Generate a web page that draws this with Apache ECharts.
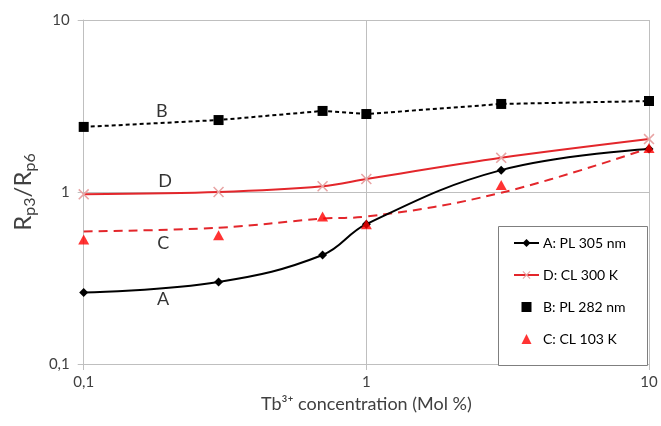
<!DOCTYPE html>
<html>
<head>
<meta charset="utf-8">
<script src="https://cdn.jsdelivr.net/npm/echarts@6/dist/echarts.min.js"></script>
<style>
html,body{margin:0;padding:0;background:#fff;}
#chart{width:661px;height:426px;}
</style>
</head>
<body>
<div id="chart"></div>
<script>
const concentrations = [0.1, 0.3, 0.7, 1, 3, 10];
const seriesA = [0.26, 0.30, 0.43, 0.65, 1.34, 1.78];
const seriesD = [0.97, 1.00, 1.08, 1.19, 1.58, 2.03];
const seriesB = [2.39, 2.62, 2.96, 2.84, 3.25, 3.38];
const seriesC = [0.53, 0.56, 0.72, 0.65, 1.10, 1.80];
const trendC = [0.59, 0.62, 0.70, 0.72, 0.99, 1.80];
const xTickLabels = ['0,1', '1', '10'];
const yTickLabels = ['0,1', '1', '10'];
const legendNames = ['A: PL 305 nm', 'D: CL 300 K', 'B: PL 282 nm', 'C: CL 103 K'];
const curveLabels = ['B', 'D', 'C', 'A'];
const curveLabelX = [0.189, 0.194, 0.191, 0.191];
const curveLabelY = [2.96, 1.16, 0.505, 0.239];

const pairs = arr => concentrations.map((x, i) => [x, arr[i]]);
const FONT = 'Lato, "Open Sans", sans-serif';
const xPath = 'path://M0,1L1,0L5,4L9,0L10,1L6,5L10,9L9,10L5,6L1,10L0,9L4,5Z';
const sqPath = 'path://M0,0H10V10H0Z';
const triPath = 'path://M5,0L10,10H0Z';

const chart = echarts.init(document.getElementById('chart'), null, {renderer: 'canvas'});
chart.setOption({
  animation: false,
  backgroundColor: '#fff',
  textStyle: {fontFamily: FONT},
  grid: {left: 78, right: 12, top: 20, bottom: 62},
  xAxis: {
    type: 'log', logBase: 10, min: 0.1, max: 10,
    axisLine: {show: true, lineStyle: {color: '#bfbfbf', width: 1}},
    axisTick: {show: true, length: 6, lineStyle: {color: '#bfbfbf'}},
    splitLine: {show: true, lineStyle: {color: '#bfbfbf', width: 1}},
    minorTick: {show: false},
    axisLabel: {color: '#404040', fontSize: 15, margin: 11, fontFamily: FONT,
      formatter: (v, i) => xTickLabels[i]},
    name: 'Tb³⁺ concentration (Mol %)',
    nameLocation: 'middle', nameGap: 30,
    nameTextStyle: {color: '#404040', fontSize: 18, fontFamily: FONT}
  },
  yAxis: {
    type: 'log', logBase: 10, min: 0.1, max: 10,
    axisLine: {show: true, lineStyle: {color: '#bfbfbf', width: 1}},
    axisTick: {show: true, length: 6, lineStyle: {color: '#bfbfbf'}},
    splitLine: {show: true, lineStyle: {color: '#bfbfbf', width: 1}},
    axisLabel: {color: '#404040', fontSize: 15, margin: 14, fontFamily: FONT,
      formatter: (v, i) => yTickLabels[i]},
    name: 'R{s|p3}/R{s|p6}',
    nameLocation: 'middle', nameGap: 40, nameRotate: 90,
    nameTextStyle: {color: '#404040', fontSize: 24, fontFamily: FONT, lineHeight: 30,
      rich: {s: {fontSize: 16, lineHeight: 16, verticalAlign: 'bottom', color: '#404040', fontFamily: FONT, padding: [0, 0, 0, 0]}}}
  },
  legend: {
    data: [
      {name: legendNames[0]},
      {name: legendNames[1]},
      {name: legendNames[2], icon: sqPath},
      {name: legendNames[3], icon: triPath}
    ],
    orient: 'vertical', left: 498, top: 226,
    padding: [10, 10, 7, 15],
    itemWidth: 25, itemHeight: 10, itemGap: 18,
    textStyle: {color: '#000', fontSize: 14, fontFamily: FONT, padding: [0, 0, 0, -1]},
    backgroundColor: 'transparent', borderWidth: 0, z: 5
  },
  graphic: [{
    type: 'rect', left: 498, top: 226, z: 4,
    shape: {width: 149, height: 139},
    style: {fill: '#fff', stroke: '#7f7f7f', lineWidth: 1}
  }],
  series: [
    {
      name: legendNames[2], type: 'line', data: pairs(seriesB),
      symbol: 'rect', symbolSize: 10,
      itemStyle: {color: '#000'},
      lineStyle: {color: '#000', width: 2, type: [4, 3]},
      smooth: false, z: 3
    },
    {
      name: legendNames[1], type: 'line', data: pairs(seriesD),
      symbol: xPath, symbolSize: 11,
      itemStyle: {color: '#e8a4a4'},
      lineStyle: {color: '#e3262b', width: 2},
      smooth: 0.3, z: 3
    },
    {
      name: 'C trend', type: 'line', data: pairs(trendC),
      symbol: 'none', showSymbol: false,
      lineStyle: {color: '#e3262b', width: 2, type: [9, 6]},
      itemStyle: {color: '#e3262b'},
      smooth: 0.4, z: 2, silent: true
    },
    {
      name: legendNames[0], type: 'line', data: pairs(seriesA),
      symbol: 'diamond', symbolSize: 9,
      itemStyle: {color: '#000'},
      lineStyle: {color: '#000', width: 2},
      smooth: 0.4, z: 4
    },
    {
      name: legendNames[3], type: 'scatter', data: pairs(seriesC),
      symbol: triPath, symbolSize: [11, 10],
      itemStyle: {color: '#ff0000'}, z: 5
    },
    {
      name: 'labels', type: 'scatter',
      data: curveLabels.map((t, i) => ({value: [curveLabelX[i], curveLabelY[i]], name: t})),
      symbolSize: 1, itemStyle: {color: 'transparent'}, silent: true,
      label: {show: true, position: 'inside', formatter: p => p.name,
        color: '#000', fontSize: 18, fontFamily: FONT}
    }
  ]
});
</script>
</body>
</html>
